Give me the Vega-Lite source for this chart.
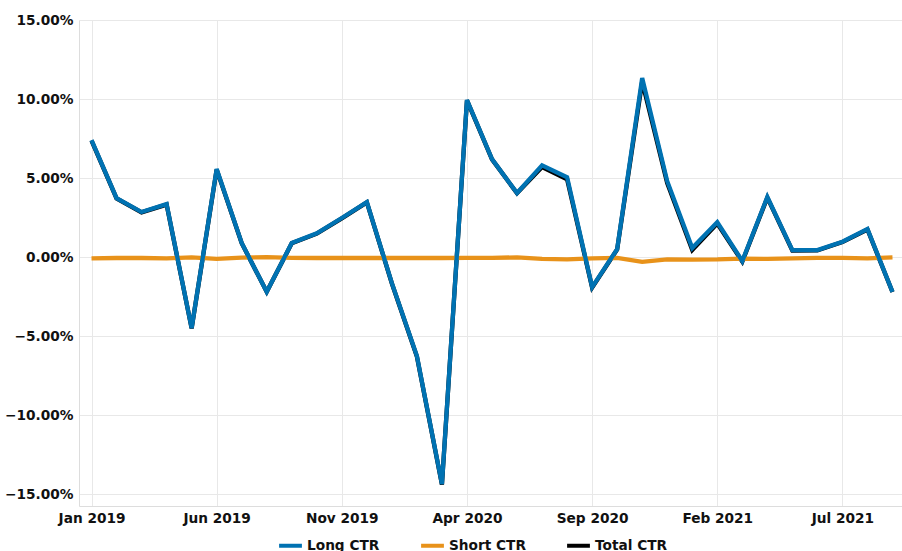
{
  "$schema": "https://vega.github.io/schema/vega-lite/v6.json",
  "autosize": "none",
  "width": 826,
  "height": 486,
  "padding": {"left": 79, "top": 20, "right": 0, "bottom": 45},
  "background": "white",
  "config": {
    "view": {"stroke": null},
    "font": "DejaVu Sans",
    "axis": {"labelFont": "DejaVu Sans", "labelFontWeight": "bold", "labelFontSize": 13.7, "labelColor": "#111111", "gridColor": "#e8e8e8", "domainColor": "#dddddd", "ticks": false, "title": null},
    "legend": {"labelFont": "DejaVu Sans", "labelFontWeight": "bold", "labelFontSize": 13.7, "labelColor": "#111111"}
  },
  "datasets": {
    "ctr": [
      {"month": "Jan 2019", "Long CTR": 7.4, "Short CTR": -0.08, "Total CTR": 7.37},
      {"month": "Feb 2019", "Long CTR": 3.73, "Short CTR": -0.06, "Total CTR": 3.71},
      {"month": "Mar 2019", "Long CTR": 2.85, "Short CTR": -0.06, "Total CTR": 2.83},
      {"month": "Apr 2019", "Long CTR": 3.35, "Short CTR": -0.08, "Total CTR": 3.32},
      {"month": "May 2019", "Long CTR": -4.5, "Short CTR": -0.02, "Total CTR": -4.51},
      {"month": "Jun 2019", "Long CTR": 5.57, "Short CTR": -0.12, "Total CTR": 5.53},
      {"month": "Jul 2019", "Long CTR": 0.89, "Short CTR": -0.03, "Total CTR": 0.88},
      {"month": "Aug 2019", "Long CTR": -2.2, "Short CTR": 0.0, "Total CTR": -2.2},
      {"month": "Sep 2019", "Long CTR": 0.89, "Short CTR": -0.05, "Total CTR": 0.87},
      {"month": "Oct 2019", "Long CTR": 1.5, "Short CTR": -0.06, "Total CTR": 1.48},
      {"month": "Nov 2019", "Long CTR": 2.47, "Short CTR": -0.06, "Total CTR": 2.45},
      {"month": "Dec 2019", "Long CTR": 3.48, "Short CTR": -0.06, "Total CTR": 3.46},
      {"month": "Jan 2020", "Long CTR": -1.65, "Short CTR": -0.06, "Total CTR": -1.67},
      {"month": "Feb 2020", "Long CTR": -6.27, "Short CTR": -0.06, "Total CTR": -6.29},
      {"month": "Mar 2020", "Long CTR": -14.37, "Short CTR": -0.06, "Total CTR": -14.39},
      {"month": "Apr 2020", "Long CTR": 9.94, "Short CTR": -0.05, "Total CTR": 9.92},
      {"month": "May 2020", "Long CTR": 6.2, "Short CTR": -0.05, "Total CTR": 6.18},
      {"month": "Jun 2020", "Long CTR": 4.05, "Short CTR": -0.02, "Total CTR": 4.04},
      {"month": "Jul 2020", "Long CTR": 5.8, "Short CTR": -0.12, "Total CTR": 5.7},
      {"month": "Aug 2020", "Long CTR": 5.05, "Short CTR": -0.15, "Total CTR": 4.92},
      {"month": "Sep 2020", "Long CTR": -1.9, "Short CTR": -0.08, "Total CTR": -1.93},
      {"month": "Oct 2020", "Long CTR": 0.5, "Short CTR": -0.05, "Total CTR": 0.48},
      {"month": "Nov 2020", "Long CTR": 11.33, "Short CTR": -0.3, "Total CTR": 11.1},
      {"month": "Dec 2020", "Long CTR": 4.8, "Short CTR": -0.15, "Total CTR": 4.68},
      {"month": "Jan 2021", "Long CTR": 0.57, "Short CTR": -0.16, "Total CTR": 0.45},
      {"month": "Feb 2021", "Long CTR": 2.2, "Short CTR": -0.15, "Total CTR": 2.12},
      {"month": "Mar 2021", "Long CTR": -0.25, "Short CTR": -0.1, "Total CTR": -0.29},
      {"month": "Apr 2021", "Long CTR": 3.8, "Short CTR": -0.12, "Total CTR": 3.76},
      {"month": "May 2021", "Long CTR": 0.44, "Short CTR": -0.08, "Total CTR": 0.41},
      {"month": "Jun 2021", "Long CTR": 0.44, "Short CTR": -0.05, "Total CTR": 0.42},
      {"month": "Jul 2021", "Long CTR": 0.97, "Short CTR": -0.05, "Total CTR": 0.95},
      {"month": "Aug 2021", "Long CTR": 1.77, "Short CTR": -0.08, "Total CTR": 1.74},
      {"month": "Sep 2021", "Long CTR": -2.2, "Short CTR": -0.02, "Total CTR": -2.21}
    ]
  },
  "data": {"name": "ctr"},
  "transform": [
    {"fold": ["Long CTR", "Short CTR", "Total CTR"], "as": ["series", "pct"]}
  ],
  "encoding": {
    "x": {
      "field": "month", "type": "ordinal", "sort": null,
      "scale": {"type": "point", "padding": 0.5},
      "axis": {"values": ["Jan 2019", "Jun 2019", "Nov 2019", "Apr 2020", "Sep 2020", "Feb 2021", "Jul 2021"], "labelAngle": 0, "grid": true, "labelPadding": 5}
    },
    "y": {"field": "pct", "type": "quantitative",
      "scale": {"domain": [-15.75, 15], "nice": false, "zero": false},
      "axis": {"values": [-15, -10, -5, 0, 5, 10, 15], "labelExpr": "format(datum.value, '.2f') + '%'", "labelPadding": 6}},
    "color": {"field": "series", "type": "nominal",
      "scale": {"domain": ["Long CTR", "Short CTR", "Total CTR"], "range": ["#0072B2", "#E8921A", "#000000"]},
      "legend": {"orient": "none", "legendX": 198, "legendY": 512, "direction": "horizontal", "title": null, "symbolType": "stroke", "symbolStrokeWidth": 4, "symbolSize": 520, "labelOffset": 3, "columnPadding": 33}}
  },
  "layer": [
    {
      "transform": [{"filter": "datum.series === 'Total CTR'"}],
      "mark": {"type": "line", "strokeWidth": 4.3}
    },
    {
      "transform": [{"filter": "datum.series === 'Short CTR'"}],
      "mark": {"type": "line", "strokeWidth": 4.3}
    },
    {
      "transform": [{"filter": "datum.series === 'Long CTR'"}],
      "mark": {"type": "line", "strokeWidth": 4.3}
    }
  ]
}
